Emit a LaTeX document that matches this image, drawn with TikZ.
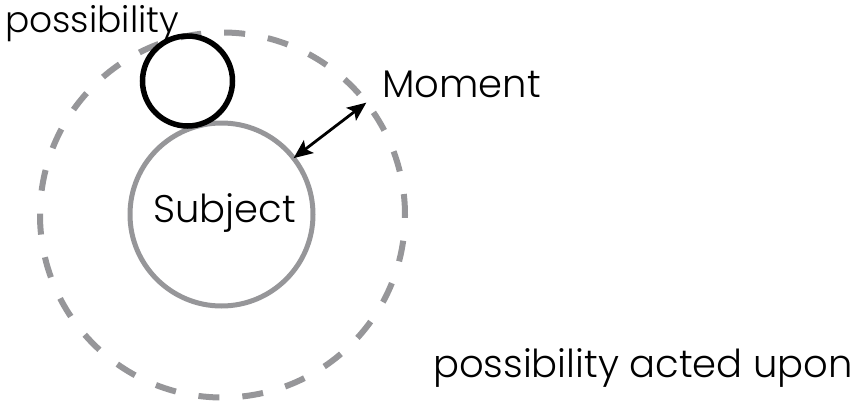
\documentclass[tikz,border=0pt]{standalone}
\usepackage{fontspec}
\setmainfont{Poppins}[UprightFont={* Light}]
\usetikzlibrary{arrows.meta}
\definecolor{ringgray}{RGB}{150,150,153}
\tikzset{%
  ring/.style={draw,shape=circle,inner sep=0,outer sep=0},
  lbl/.style={inner sep=0,anchor=base west,font=\fontsize{38.5}{44}\selectfont},
  moment/.style={<->,line width=2.8,>={Stealth[length=19pt,width=16pt,inset=4pt]}}
}
\begin{document}
\begin{tikzpicture}[x=1pt,y=-1pt]
    \useasboundingbox (0,0) rectangle (855,405);
    \path
      (222.5,215) node[ring,draw=ringgray,line width=6,dash pattern=on 21pt off 23pt,minimum size=365] (outer) {}
      (221.5,214.5) node[ring,draw=ringgray,line width=5,minimum size=183] (subj) {}
      (187.5,81) node[ring,draw=black,line width=5.5,minimum size=90] (poss) {};
    \node[lbl] (subjlbl) at (153,222) {Subject};
    \node[lbl,font=\fontsize{36}{42}\selectfont] (posslbl) at (5,32) {possibility};
    \node[lbl] (momlbl) at (382,97) {Moment};
    \node[lbl] (actlbl) at (433,377) {possibility acted upon};
    \draw[moment] (subj.38) -- (outer.38);
\end{tikzpicture}
\end{document}
